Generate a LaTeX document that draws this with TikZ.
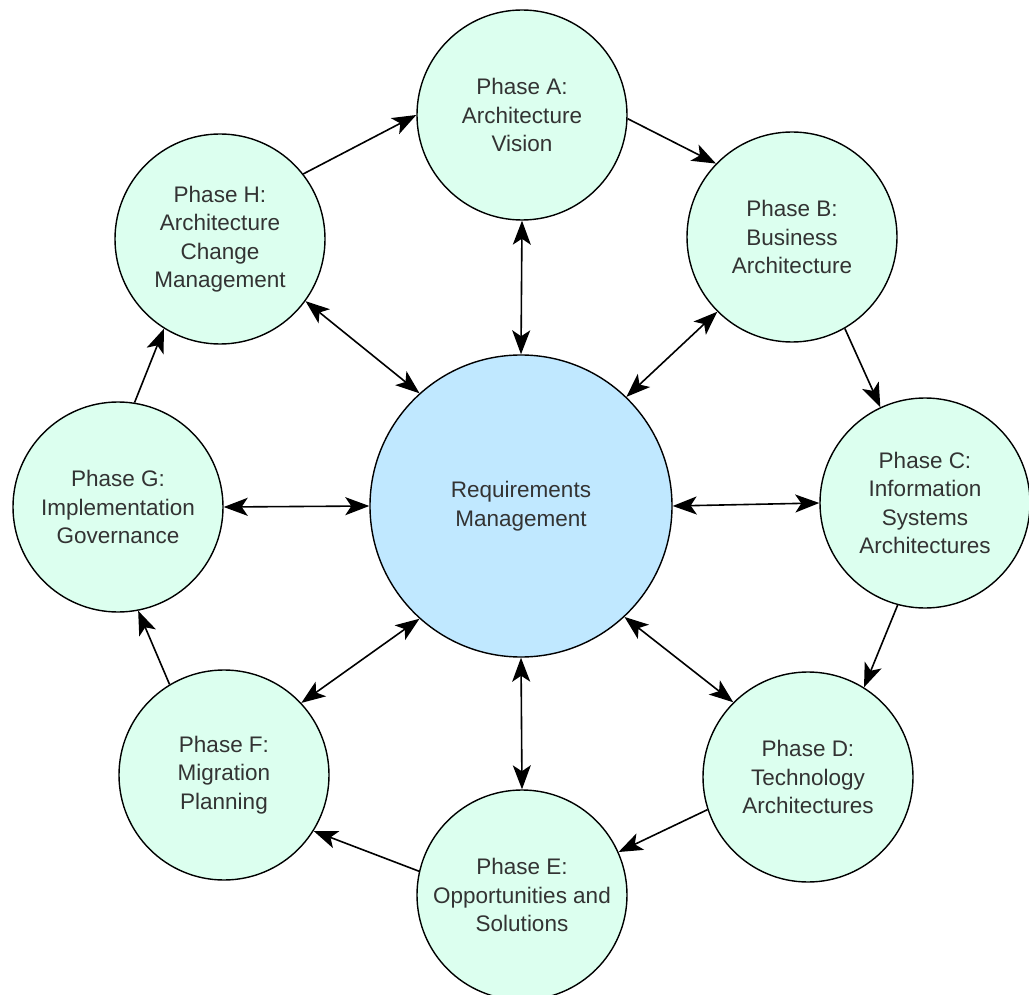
\documentclass[tikz,border=0pt]{standalone}
\usepackage{fontspec}
\setmainfont{Liberation Sans}
\usetikzlibrary{arrows.meta}
\definecolor{mint}{HTML}{DCFFEF}
\definecolor{skyb}{HTML}{C0E8FF}
\definecolor{txt}{HTML}{333333}
\tikzset{
  phase/.style={circle, draw=black, line width=1.4pt, fill=mint, minimum size=210pt, inner sep=0pt,
    align=center, text=txt, font=\fontsize{22.5}{28.5}\selectfont},
  hub/.style={phase, fill=skyb, minimum size=302pt},
  arr/.style={line width=1.6pt, -{Stealth[length=24pt,width=18pt,inset=6pt]}},
  dbl/.style={line width=1.6pt, {Stealth[length=24pt,width=18pt,inset=6pt]}-{Stealth[length=24pt,width=18pt,inset=6pt]}}
}
\begin{document}
\begin{tikzpicture}[x=1pt,y=-1pt]
\useasboundingbox[fill=white] (0,0) rectangle (1029,995);
\node[hub] (R) at (521,506) {Requirements\\Management};
\node[phase] (A) at (522,115) {Phase A:\\Architecture\\Vision};
\node[phase] (B) at (792,237) {Phase B:\\Business\\Architecture};
\node[phase] (C) at (925,503) {Phase C:\\Information\\Systems\\Architectures};
\node[phase] (D) at (808,777) {Phase D:\\Technology\\Architectures};
\node[phase] (E) at (522,895) {Phase E:\\Opportunities and\\Solutions};
\node[phase] (F) at (224,775) {Phase F:\\Migration\\Planning};
\node[phase] (G) at (118,507) {Phase G:\\Implementation\\Governance};
\node[phase] (H) at (220,239) {Phase H:\\Architecture\\Change\\Management};
% cycle
\draw[arr] (H.38) -- (A.180);
\draw[arr] (A.-2) -- (B.136);
\draw[arr] (B.-60) -- (C.115);
\draw[arr] (C.-105) -- (D.58);
\draw[arr] (D.198) -- (E.24);
\draw[arr] (E.167) -- (F.-32);
\draw[arr] (F.121) -- (G.-79);
\draw[arr] (G.81) -- (H.-122);
% hub links
\draw[dbl] (A.-90) -- (R.90);
\draw[dbl] (B.225) -- (R.46);
\draw[dbl] (C.180) -- (R.0);
\draw[dbl] (D.135) -- (R.-47);
\draw[dbl] (E.90) -- (R.-90);
\draw[dbl] (F.43) -- (R.228);
\draw[dbl] (G.0) -- (R.180);
\draw[dbl] (H.-36) -- (R.132);
\end{tikzpicture}
\end{document}
